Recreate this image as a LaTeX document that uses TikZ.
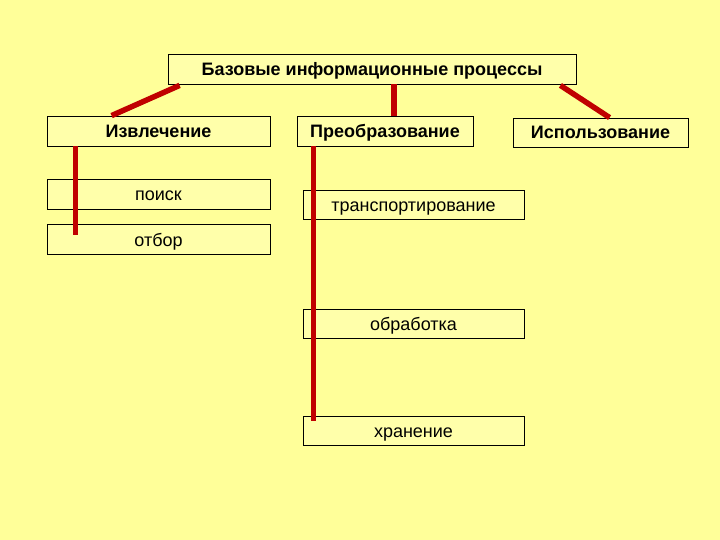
\documentclass[tikz,border=0pt]{standalone}
\usepackage{fontspec}
\setmainfont{Liberation Sans}
\usetikzlibrary{calc}
\definecolor{bgyellow}{RGB}{255,255,153}
\definecolor{boxyellow}{RGB}{255,255,170}
\definecolor{linkred}{RGB}{192,0,0}
\tikzset{
  box/.style={draw=black, line width=0.8pt, fill=boxyellow, inner sep=0pt, anchor=center,
    text height=14pt, text depth=1pt},
  wbox/.style={box, minimum width=223pt, minimum height=30pt},
  pbox/.style={box, minimum width=221pt, minimum height=29pt},
  hdr/.style={font=\fontsize{18}{21}\selectfont\bfseries},
  txt/.style={font=\fontsize{18}{21}\selectfont},
  link/.style={draw=linkred, line width=5.5pt}
}
\begin{document}
\begin{tikzpicture}[x=1pt,y=-1pt]
\fill[bgyellow] (0,0) rectangle (720,540);
\useasboundingbox (0,0) rectangle (720,540);
\node[box, hdr, minimum width=408pt, minimum height=30pt] (top) at (372,69) {Базовые информационные процессы};
\node[wbox, hdr] (izv) at (158.5,131) {Извлечение};
\node[box, hdr, minimum width=176pt, minimum height=30pt] (pre) at (385,131) {Преобразование};
\node[box, hdr, minimum width=175pt, minimum height=29pt] (isp) at (600.5,132.5) {Использование};
\node[wbox, txt] (poisk) at (158.5,194) {поиск};
\node[wbox, txt] (otbor) at (158.5,239.5) {отбор};
\node[pbox, txt] (trans) at (413.5,205) {транспортирование};
\node[pbox, txt] (obr) at (413.5,324) {обработка};
\node[pbox, txt] (hran) at (413.5,431) {хранение};
\coordinate (midlink) at ($(pre.north)+(9,0)$);
\coordinate (izvStart) at ($(izv.south west)+(29,0)$);
\coordinate (izvEnd) at ($(otbor.north west)+(0,11)$);
\coordinate (preStart) at ($(pre.south west)+(17,0)$);
\coordinate (preEnd) at ($(hran.north west)+(0,5)$);
\draw[link] ($(top.south west)+(12,1)$) -- ($(izv.north west)+(65,0)$);
\draw[link] (top.south -| midlink) -- (midlink);
\draw[link] ($(top.south east)+(-16,1)$) -- ($(isp.north west)+(97,0)$);
\draw[link] (izvStart) -- (izvStart |- izvEnd);
\draw[link] (preStart) -- (preStart |- preEnd);
\end{tikzpicture}
\end{document}
